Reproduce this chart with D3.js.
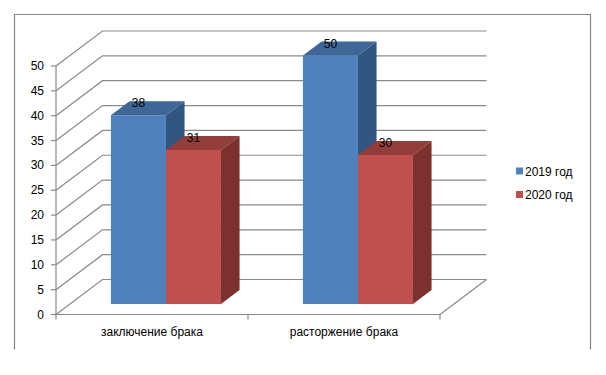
<!DOCTYPE html>
<html>
<head>
  <meta charset="utf-8">
  <script src="https://d3js.org/d3.v7.min.js"></script>
  <style>
    body { margin: 0; background: white; }
    svg text { font-family: "Liberation Sans", Arial, sans-serif; font-size: 12px; fill: #000; }
  </style>
</head>
<body>
<script>
  // data
  const categories = ["заключение брака", "расторжение брака"];
  const seriesNames = ["2019 год", "2020 год"];
  const values2019 = [38, 50];
  const values2020 = [31, 30];
  const yTickValues = [0, 5, 10, 15, 20, 25, 30, 35, 40, 45, 50];

  const width = 606, height = 375;
  const svg = d3.select("body").append("svg")
    .attr("width", width)
    .attr("height", height);

  // chart border (no bottom edge, like the source)
  svg.append("path")
    .attr("d", "M14.5,349.5 V14.5 H590.5 V349.5")
    .attr("fill", "none")
    .attr("stroke", "#878787")
    .attr("stroke-width", 1.2);

  // depth offset of the floor/back wall
  const DX = 46.5, DY = 35;
  const left = 56, right = 440;

  const y = d3.scaleLinear().domain([0, 50]).range([314.5, 66]);
  const x0 = d3.scaleBand().domain(categories).range([left, right]);
  const x1 = d3.scaleBand().domain(seriesNames).range([0, x0.bandwidth()]).paddingOuter(0.745);

  const proj = (px, v, z) => [px + z * DX, y(v) - z * DY];

  const grid = svg.append("g").attr("stroke", "#8a8a8a").attr("stroke-width", 1.2).attr("fill", "none");

  // back wall gridlines + side wall diagonals
  yTickValues.forEach(v => {
    const a = proj(left, v, 0), b = proj(left, v, 1), c = proj(right, v, 1);
    grid.append("path").attr("d", `M${a[0]},${a[1]} L${b[0]},${b[1]} L${c[0]},${c[1]}`);
  });

  // floor right diagonal
  {
    const a = proj(right, 0, 0), b = proj(right, 0, 1);
    grid.append("line").attr("x1", a[0]).attr("y1", a[1]).attr("x2", b[0]).attr("y2", b[1]);
  }

  // front axes
  grid.append("line").attr("x1", left).attr("x2", left).attr("y1", y(50)).attr("y2", y(0));
  grid.append("line").attr("x1", left).attr("x2", right).attr("y1", y(0)).attr("y2", y(0));
  yTickValues.forEach(v => {
    grid.append("line").attr("x1", left - 5).attr("x2", left).attr("y1", y(v)).attr("y2", y(v));
  });
  [left, left + x0.step(), right].forEach(px => {
    grid.append("line").attr("x1", px).attr("x2", px).attr("y1", y(0)).attr("y2", y(0) + 5);
  });

  // y tick labels
  svg.append("g").selectAll("text")
    .data(yTickValues)
    .join("text")
    .attr("x", 44)
    .attr("y", d => y(d) + 4)
    .attr("text-anchor", "end")
    .text(d => d);

  // category labels
  svg.append("g").selectAll("text")
    .data(categories)
    .join("text")
    .attr("x", d => x0(d) + x0.bandwidth() / 2)
    .attr("y", 336)
    .attr("text-anchor", "middle")
    .text(d => d);

  // bars
  const colors = {
    "2019 год": { front: "#4f81bd", top: "#3e6798", side: "#335581" },
    "2020 год": { front: "#c0504d", top: "#933d3a", side: "#7c312f" }
  };
  const bars = [];
  categories.forEach((c, i) => {
    bars.push({ cat: c, series: seriesNames[0], value: values2019[i] });
    bars.push({ cat: c, series: seriesNames[1], value: values2020[i] });
  });

  const z0 = 0.3, z1 = 0.7;
  const poly = pts => "M" + pts.map(p => p.join(",")).join("L") + "Z";
  const barG = svg.append("g");
  bars.forEach(d => {
    const xl = x0(d.cat) + x1(d.series);
    const xr = xl + x1.bandwidth();
    const col = colors[d.series];
    const g = barG.append("g");
    g.append("path").attr("fill", col.front)
      .attr("d", poly([proj(xl, 0, z0), proj(xr, 0, z0), proj(xr, d.value, z0), proj(xl, d.value, z0)]));
    g.append("path").attr("fill", col.top)
      .attr("d", poly([proj(xl, d.value, z0), proj(xr, d.value, z0), proj(xr, d.value, z1), proj(xl, d.value, z1)]));
    g.append("path").attr("fill", col.side)
      .attr("d", poly([proj(xr, 0, z0), proj(xr, 0, z1), proj(xr, d.value, z1), proj(xr, d.value, z0)]));
  });

  // value labels
  svg.append("g").selectAll("text")
    .data(bars)
    .join("text")
    .attr("x", d => proj(x0(d.cat) + x1(d.series) + x1.bandwidth() / 2, d.value, z0)[0])
    .attr("y", d => proj(0, d.value, z1)[1] + 6)
    .attr("text-anchor", "middle")
    .text(d => d.value);

  // legend
  const legend = svg.append("g").selectAll("g")
    .data(seriesNames)
    .join("g")
    .attr("transform", (d, i) => `translate(516, ${167.5 + i * 23.5})`);
  legend.append("rect")
    .attr("width", 7).attr("height", 7)
    .attr("fill", d => colors[d].front);
  legend.append("text")
    .attr("x", 9)
    .attr("y", 8)
    .text(d => d);
</script>
</body>
</html>
